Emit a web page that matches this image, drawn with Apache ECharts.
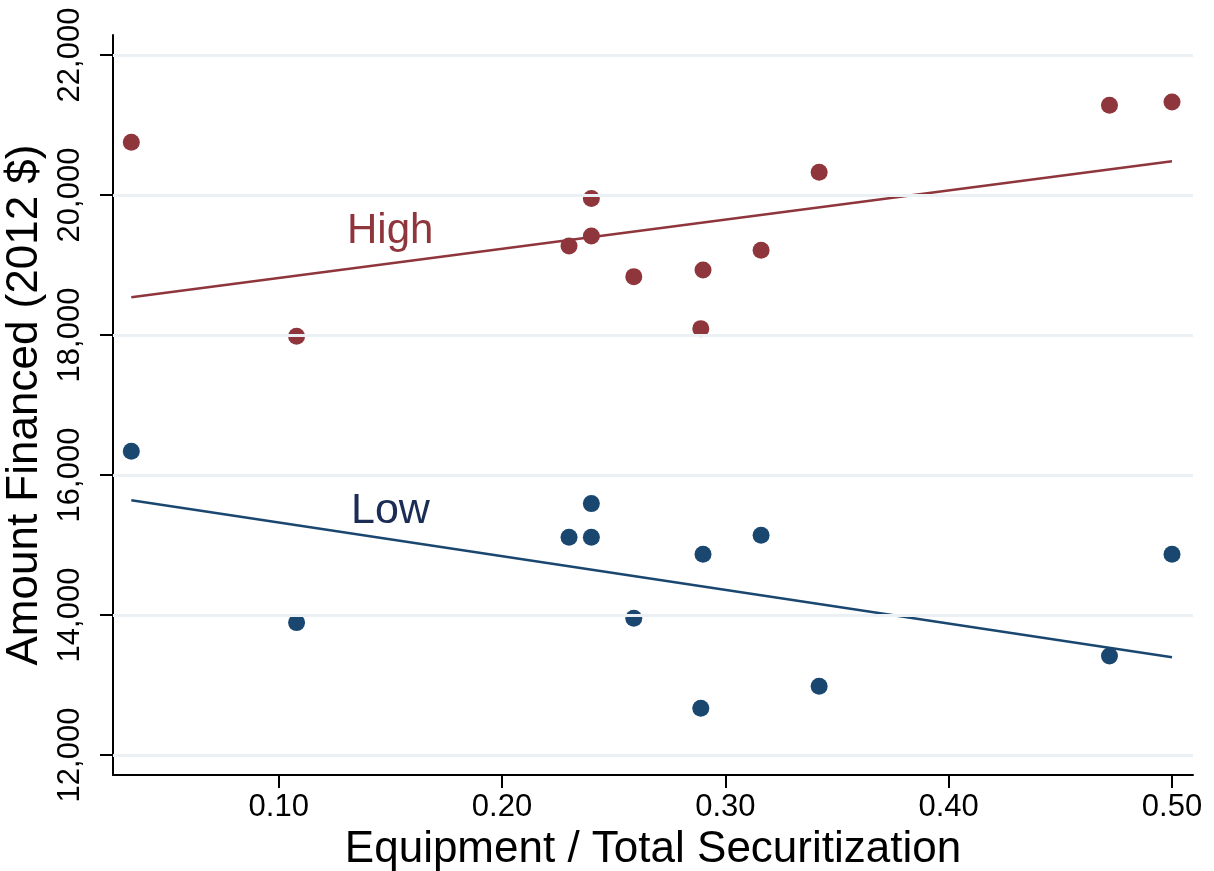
<!DOCTYPE html>
<html>
<head>
<meta charset="utf-8">
<script src="https://cdn.jsdelivr.net/npm/echarts@6/dist/echarts.min.js"></script>
<style>html,body{margin:0;padding:0;background:#fff}#c{width:1214px;height:871px}</style>
</head>
<body>
<div id="c"></div>
<script>
// Equipment share (x) and amount financed (y)
var shareX = [0.034, 0.108, 0.230, 0.240, 0.240, 0.259, 0.290, 0.289, 0.316, 0.342, 0.472, 0.500];
var highY  = [20753, 17981, 19271, 19949, 19414, 18834, 18929, 18091, 19210, 20324, 21281, 21329];
var lowY   = [16339, 13891, 15110, 15591, 15110, 13953, 14867, 12667, 15139, 12981, 13414, 14867];
// Fitted line endpoints
var fitX     = [0.034, 0.500];
var fitHighY = [18539, 20481];
var fitLowY  = [15639, 13396];
var yTicks = [12000, 14000, 16000, 18000, 20000, 22000];
var xTicks = [0.10, 0.20, 0.30, 0.40, 0.50];

var RED = '#8f353c', BLUE = '#1a476f';
function pairs(xs, ys){ return xs.map(function(x,i){ return [x, ys[i]]; }); }

var chart = echarts.init(document.getElementById('c'));
chart.setOption({
  animation: false,
  backgroundColor: '#fff',
  grid: { left: 113, right: 21, top: 35, bottom: 96, containLabel: false, outerBoundsMode: 'none' },
  xAxis: {
    type: 'value', min: 0.0258, max: 0.5094,
    name: 'Equipment / Total Securitization', nameLocation: 'middle', nameGap: 51,
    nameTextStyle: { fontFamily: 'Liberation Sans, Arial', fontSize: 44, color: '#000' },
    axisLine: { show: true, lineStyle: { color: '#000', width: 2 } },
    axisTick: { show: true, length: 13, lineStyle: { color: '#000', width: 2 },
      customValues: xTicks },
    axisLabel: { fontFamily: 'Liberation Sans, Arial', fontSize: 31, color: '#000', margin: 17,
      customValues: xTicks, formatter: function(v){ return v.toFixed(2); } },
    splitLine: { show: false }
  },
  yAxis: {
    type: 'value', min: 11714, max: 22286,
    name: 'Amount Financed (2012 $)', nameLocation: 'middle', nameGap: 54,
    nameTextStyle: { fontFamily: 'Liberation Sans, Arial', fontSize: 44, color: '#000' },
    axisLine: { show: true, lineStyle: { color: '#000', width: 2 } },
    axisTick: { show: true, length: 13, lineStyle: { color: '#000', width: 2 }, customValues: yTicks },
    axisLabel: { fontFamily: 'Liberation Sans, Arial', fontSize: 31, color: '#000', margin: 27, rotate: 90,
      customValues: yTicks,
      formatter: function(v){ return v.toLocaleString('en-US'); } },
    splitLine: { show: false }
  },
  series: [
    { type: 'line', data: yTicks.map(function(t){ return [0.0258, t]; }), symbol: 'none', lineStyle: { opacity: 0 }, silent: true,
      markLine: { silent: true, symbol: 'none', label: { show: false },
        lineStyle: { color: '#eaf0f3', width: 3, type: 'solid' },
        data: yTicks.map(function(t){ return { yAxis: t }; }) } },
    { type: 'line', data: pairs(fitX, fitHighY), symbol: 'none', lineStyle: { color: RED, width: 2.5 }, z: 3 },
    { type: 'line', data: pairs(fitX, fitLowY), symbol: 'none', lineStyle: { color: BLUE, width: 2.5 }, z: 3 },
    { type: 'scatter', data: pairs(shareX, highY), symbolSize: 17, itemStyle: { color: RED, opacity: 1 }, z: 4 },
    { type: 'scatter', data: pairs(shareX, lowY), symbolSize: 17, itemStyle: { color: BLUE, opacity: 1 }, z: 4 }
  ],
  graphic: [
    { type: 'text', left: 347, top: 210, style: { text: 'High', fontFamily: 'Liberation Sans, Arial', fontSize: 42, fill: '#8f353c' } },
    { type: 'text', left: 351, top: 490, style: { text: 'Low', fontFamily: 'Liberation Sans, Arial', fontSize: 43, fill: '#1c2d55' } }
  ]
});
</script>
</body>
</html>
